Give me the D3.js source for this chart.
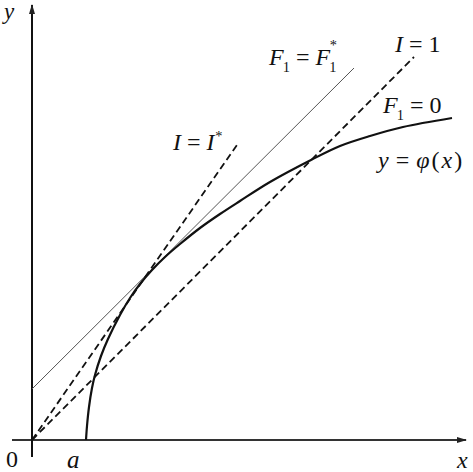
<!DOCTYPE html>
<html><head><meta charset="utf-8">
<script src="https://cdn.jsdelivr.net/npm/d3@7"></script>
<style>html,body{margin:0;padding:0;background:#fff;}svg{display:block;}
text{font-family:"Liberation Serif","Times New Roman","DejaVu Serif",serif;}</style>
</head><body><svg id="c" width="473" height="472"></svg>
<script>
// ---- data ----
const curveX = [1.35,1.375,1.425,1.5,1.575,1.725,1.9,2.2,2.45,2.7,3.0,3.325,3.7,4.2,4.7,5.2,5.95,6.975,7.7,8.45,9.275,10.5];
const curveY = [0,0.35,0.825,1.3,1.625,2.1,2.525,3.125,3.55,3.9,4.25,4.575,4.9,5.3,5.65,5.975,6.45,7.0,7.35,7.6,7.825,8.05];
const lineNames = ["F1=F1*", "I=1", "I=I*"];
const lineX0 = [0, 0, 0];
const lineY0 = [1.275, 0, 0];
const lineX1 = [8.05, 9.55, 5.175];
const lineY1 = [9.3, 9.575, 7.45];
const axisLabels = ["y", "0", "a", "x"];
const curveLabels = ["I=I*", "F1=F1*", "I=1", "F1=0", "y=φ(x)"];

// ---- drawing ----
const svg = d3.select("#c");
const x = d3.scaleLinear().domain([0, 10]).range([32, 432]);
const y = d3.scaleLinear().domain([0, 10]).range([440, 40]);

const defs = svg.append("defs");
defs.append("marker").attr("id","arr").attr("markerUnits","userSpaceOnUse")
  .attr("viewBox","0 -4 10 8").attr("refX",9).attr("refY",0)
  .attr("markerWidth",10).attr("markerHeight",8).attr("orient","auto")
  .append("path").attr("d","M0,-3L10,0L0,3Z").attr("fill","#222");

// axes
svg.append("line").attr("x1", x(-0.5)).attr("y1", y(0)).attr("x2", x(10.85)).attr("y2", y(0))
  .attr("stroke","#333").attr("stroke-width",2).attr("marker-end","url(#arr)");
svg.append("line").attr("x1", x(0)).attr("y1", y(-0.425)).attr("x2", x(0)).attr("y2", y(10.875))
  .attr("stroke","#111").attr("stroke-width",2).attr("marker-end","url(#arr)");

// straight lines
const lineStyle = {
  "F1=F1*": {w: 1, dash: null, c: "#555"},
  "I=1": {w: 1.8, dash: "7,4", c: "#111"},
  "I=I*": {w: 1.8, dash: "7,4", c: "#111"}
};
lineNames.forEach((n, i) => {
  const s = lineStyle[n];
  svg.append("line")
    .attr("x1", x(lineX0[i])).attr("y1", y(lineY0[i]))
    .attr("x2", x(lineX1[i])).attr("y2", y(lineY1[i]))
    .attr("stroke", s.c).attr("stroke-width", s.w)
    .attr("stroke-dasharray", s.dash);
});

// curve y = φ(x)
const pts = curveX.map((v, i) => [v, curveY[i]]);
svg.append("path").datum(pts)
  .attr("d", d3.line().x(d => x(d[0])).y(d => y(d[1])).curve(d3.curveCatmullRom.alpha(0.5)))
  .attr("fill","none").attr("stroke","#111").attr("stroke-width",2.2);

// ---- text ----
function parts(label) {
  const out = [];
  for (let k = 0; k < label.length; k++) {
    const ch = label[k];
    if (ch === "1" && k > 0 && label[k-1] === "F") out.push([ch, "sub"]);
    else if (ch === "*") out.push([ch, label.includes("F1*") ? "supover" : "sup"]);
    else if (ch === "=") out.push([ch, "rel"]);
    else if (/[A-Za-zφ]/.test(ch)) out.push([ch, "i"]);
    else out.push([ch, "r"]);
  }
  return out;
}
function richText(label, px, py, size, relSpace, extra) {
  const t = svg.append("text").attr("x", px).attr("y", py)
    .attr("font-size", size).attr("fill", "#111");
  let cur = 0, prevRel = false;
  parts(label).forEach(([s, st]) => {
    const ts = t.append("tspan").text(s);
    let off = 0, fs = size, dx = 0;
    if (st === "i") ts.attr("font-style","italic");
    if (st === "sub") { off = size*0.28; fs = size*0.6; dx = -size*0.04; }
    if (st === "sup") { off = -size*0.38; fs = size*0.6; dx = size*0.03; }
    if (st === "supover") { off = -size*0.62; fs = size*0.6; dx = -size*0.28; }
    if (st === "rel") dx += relSpace;
    if (prevRel) dx += relSpace;
    if (st !== "rel" && st !== "sub" && st !== "sup" && st !== "supover" && !prevRel) dx += (extra || 0);
    prevRel = st === "rel";
    ts.attr("font-size", fs).attr("dy", off - cur);
    if (dx) ts.attr("dx", dx);
    cur = off;
  });
  return t;
}
// axis labels
richText(axisLabels[0], 4, 19, 23, 0);
richText(axisLabels[1], 6, 467, 24, 0);
richText(axisLabels[2], 67, 468, 25, 0);
richText(axisLabels[3], 457, 468, 24, 0);
// curve labels
richText(curveLabels[0], 173, 150, 24, 6);
richText(curveLabels[1], 269, 65, 24, 6);
richText(curveLabels[2], 395, 52, 24, 6);
richText(curveLabels[3], 383, 113, 24, 6);
richText(curveLabels[4], 376, 168, 24, 7, 2);
</script>
</body></html>
